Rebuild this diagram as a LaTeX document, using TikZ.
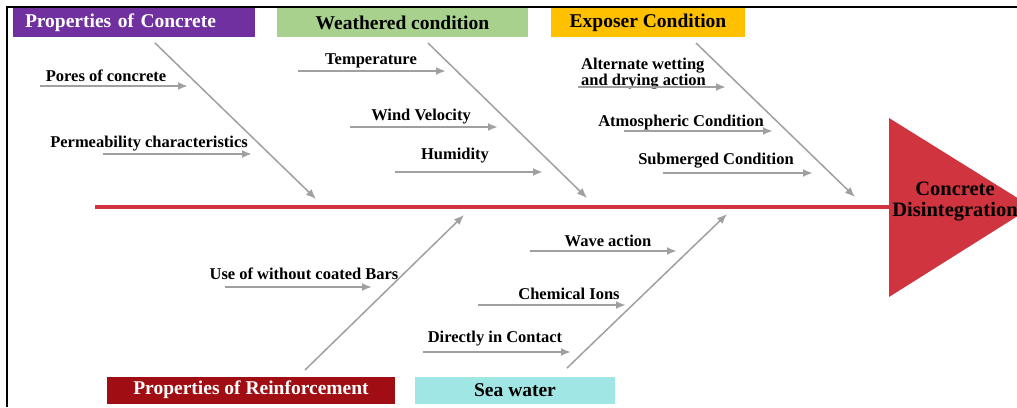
\documentclass[tikz,border=0pt]{standalone}
\usepackage{fontspec}
\setmainfont{Liberation Serif}
\usetikzlibrary{arrows.meta}
\definecolor{catpurple}{HTML}{7030A0}
\definecolor{catgreen}{HTML}{A9D18E}
\definecolor{catorange}{HTML}{FFC000}
\definecolor{catmaroon}{HTML}{A00D12}
\definecolor{catcyan}{HTML}{A0E6E4}
\definecolor{spinered}{HTML}{D0343F}
\definecolor{arrowgray}{HTML}{A0A0A0}
\begin{document}
\begin{tikzpicture}[x=1pt,y=-1pt,
  cat/.style={minimum height=29pt, inner sep=0pt, font=\fontsize{19.5}{21}\selectfont\bfseries},
  lbl/.style={font=\fontsize{16.5}{16}\selectfont\bfseries, inner sep=0pt, align=left, yshift=-2pt},
  sub/.style={draw=arrowgray, line width=2pt, -{Latex[length=10pt,width=8pt]}},
  bone/.style={draw=arrowgray, line width=1.5pt, -{Latex[length=10pt,width=8pt]}},
  spine/.style={draw=spinered, line width=3.5pt}
]
\useasboundingbox (0,0) rectangle (1017,407);
\fill[white] (0,0) rectangle (1017,407);
\begin{scope}
\clip (0,0) rectangle (1017,407);
% frame
\draw[line width=1.5pt] (7,407) -- (7,7) -- (1017,7);

% head triangle
\fill[spinered] (889,118) -- (1032,207) -- (889,297) -- cycle;
\node[font=\fontsize{20.5}{21}\selectfont\bfseries, align=center, inner sep=0pt] (effect) at (955,201.5) {Concrete\\Disintegration};

% spine
\coordinate (spineL) at (95,207);
\coordinate (spineR) at (889,207);
\draw[spine] (spineL) -- (spineR);

% category boxes
\node[cat, fill=catpurple, text=white, minimum width=242pt, text width=218pt, align=left] (c1) at (134,22.5) {Properties of Concrete};
\node[cat, fill=catgreen, minimum width=251pt] (c2) at (402.5,22.5) {Weathered condition};
\node[cat, fill=catorange, minimum width=194pt] (c3) at (648,22.5) {Exposer Condition};
\node[cat, fill=catmaroon, text=white, minimum width=288pt, minimum height=27pt] (c4) at (251,390) {Properties of Reinforcement};
\node[cat, fill=catcyan, minimum width=200pt, minimum height=27pt] (c5) at (515,390) {Sea water};

% bones
\coordinate (b1s) at (155,43);  \coordinate (b1e) at (316,199);
\coordinate (b2s) at (428,43);  \coordinate (b2e) at (587,198);
\coordinate (b3s) at (696,43);  \coordinate (b3e) at (855,197);
\coordinate (b4s) at (305,370); \coordinate (b4e) at (464,215);
\coordinate (b5s) at (567,368); \coordinate (b5e) at (727,214);
\draw[bone] (b1s) -- (b1e);
\draw[bone] (b2s) -- (b2e);
\draw[bone] (b3s) -- (b3e);
\draw[bone] (b4s) -- (b4e);
\draw[bone] (b5s) -- (b5e);

% sub-causes
\node[lbl] (l1) at (106,74) {Pores of concrete};
\coordinate (a1s) at (40,86); \coordinate (a1e) at (188,86);
\draw[sub] (a1s) -- (a1e);

\node[lbl] (l2) at (149,142) {Permeability characteristics};
\coordinate (a2s) at (103,154); \coordinate (a2e) at (252,154);
\draw[sub] (a2s) -- (a2e);

\node[lbl] (l3) at (371,59) {Temperature};
\coordinate (a3s) at (298,71); \coordinate (a3e) at (446,71);
\draw[sub] (a3s) -- (a3e);

\node[lbl] (l4) at (421,115) {Wind Velocity};
\coordinate (a4s) at (350,127); \coordinate (a4e) at (498,127);
\draw[sub] (a4s) -- (a4e);

\node[lbl] (l5) at (455,154) {Humidity};
\coordinate (a5s) at (395,172); \coordinate (a5e) at (543,172);
\draw[sub] (a5s) -- (a5e);

\node[lbl, anchor=west] (l6) at (581,72) {Alternate wetting\\and drying action};
\coordinate (a6s) at (578,87); \coordinate (a6e) at (726,87);
\draw[sub] (a6s) -- (a6e);

\node[lbl] (l7) at (681,121) {Atmospheric Condition};
\coordinate (a7s) at (624,131); \coordinate (a7e) at (773,131);
\draw[sub] (a7s) -- (a7e);

\node[lbl] (l8) at (716,159) {Submerged Condition};
\coordinate (a8s) at (663,173); \coordinate (a8e) at (813,173);
\draw[sub] (a8s) -- (a8e);

\node[lbl] (l9) at (304,272) {Use of without coated Bars};
\coordinate (a9s) at (225,287); \coordinate (a9e) at (372,287);
\draw[sub] (a9s) -- (a9e);

\node[lbl] (l10) at (608,239) {Wave action};
\coordinate (a10s) at (530,251); \coordinate (a10e) at (677,251);
\draw[sub] (a10s) -- (a10e);

\node[lbl] (l11) at (569,292) {Chemical Ions};
\coordinate (a11s) at (478,305); \coordinate (a11e) at (626,305);
\draw[sub] (a11s) -- (a11e);

\node[lbl] (l12) at (495,337) {Directly in Contact};
\coordinate (a12s) at (423,352); \coordinate (a12e) at (571,352);
\draw[sub] (a12s) -- (a12e);
\end{scope}
\end{tikzpicture}
\end{document}
